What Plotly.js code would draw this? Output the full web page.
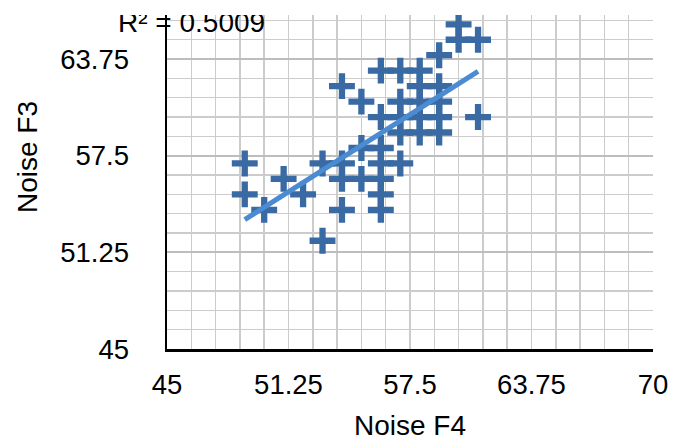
<!DOCTYPE html>
<html><head><meta charset="utf-8">
<script src="https://cdn.plot.ly/plotly-3.0.1.min.js"></script>
<style>html,body{margin:0;padding:0;background:#fff}#chart{width:675px;height:445px}</style>
</head><body><div id="chart"></div>
<script>
// Data (Noise F4 on x, Noise F3 on y)
const noiseF4 = [49,49,50,51,52,53,53,54,54,54,54,55,55,55,56,56,56,56,56,56,56,57,57,57,57,57,58,58,58,58,58,59,59,59,59,59,60,60,61,61];
const noiseF3 = [57,55,54,56,55,57,52,57,56,54,62,61,58,56,63,60,58,57,56,55,54,63,61,60,59,57,63,62,61,60,59,64,62,61,60,59,66,65,65,60];
const xTickVals = [45, 51.25, 57.5, 63.75, 70];
const xTickText = ['45', '51.25', '57.5', '63.75', '70'];
const yTickVals = [45, 51.25, 57.5, 63.75];
const yTickText = ['45', '51.25', '57.5', '63.75'];
const r2Label = 'R² = 0.5009';
const xTitle = 'Noise F4';
const yTitle = 'Noise F3';

// Least-squares linear trendline from the data
const n = noiseF4.length;
const mx = noiseF4.reduce((a,b)=>a+b,0)/n;
const my = noiseF3.reduce((a,b)=>a+b,0)/n;
let sxy = 0, sxx = 0;
for (let i=0;i<n;i++){ sxy += (noiseF4[i]-mx)*(noiseF3[i]-my); sxx += (noiseF4[i]-mx)**2; }
const slope = sxy/sxx, icpt = my - slope*mx;
const xMin = Math.min(...noiseF4), xMax = Math.max(...noiseF4);
const trendX = [xMin, xMax];
const trendY = trendX.map(x => icpt + slope*x);

const markerColor = '#3a6aa3';
const lineColor = '#4a8bd2';

const traces = [
  {type:'scatter', mode:'markers', x:noiseF4, y:noiseF3,
   marker:{symbol:'cross-thin', size:18.5, color:markerColor, line:{width:6.3, color:markerColor}},
   hoverinfo:'skip'},
  {type:'scatter', mode:'lines', x:trendX, y:trendY,
   line:{color:lineColor, width:5}, hoverinfo:'skip'}
];

const PL = 167, PR = 653, PT = 15, PB = 349;
const px2x = p => (p-PL)/(PR-PL);
const px2y = p => (PB-p)/(PB-PT);

const layout = {
  width:675, height:445,
  margin:{l:PL, r:675-PR, t:PT, b:445-PB, pad:0},
  paper_bgcolor:'#ffffff', plot_bgcolor:'#ffffff',
  font:{family:'Liberation Sans, Arial, Helvetica, sans-serif', size:27.5, color:'#000000'},
  showlegend:false,
  xaxis:{range:[45,70], tickmode:'array', tickvals:xTickVals, ticktext:xTickText,
    showgrid:false, zeroline:false, showline:true, linecolor:'#000000', linewidth:2.5,
    ticks:'', ticklabelstandoff:9, automargin:false, fixedrange:true,
    minor:{tickmode:'linear', tick0:45, dtick:1.25, showgrid:true, gridcolor:'#cccccc', gridwidth:1.5, ticks:''},
    title:{text:xTitle, standoff:17, font:{size:28}}},
  yaxis:{range:[45,66.6], tickmode:'array', tickvals:yTickVals, ticktext:yTickText,
    showgrid:true, gridcolor:'#bdbdbd', gridwidth:2.2, zeroline:false, showline:true,
    linecolor:'#000000', linewidth:2.5, ticks:'', ticklabelstandoff:30, automargin:false, fixedrange:true,
    minor:{tickmode:'linear', tick0:45, dtick:1.25, showgrid:true, gridcolor:'#cccccc', gridwidth:1.5, ticks:''}},
  annotations:[
    {xref:'paper', yref:'paper', x:px2x(27), y:px2y(157), text:yTitle, textangle:-90,
     showarrow:false, xanchor:'center', yanchor:'middle', font:{size:28}},
    {xref:'paper', yref:'paper', x:px2x(116), y:px2y(22), text:r2Label,
     showarrow:false, xanchor:'left', yanchor:'middle', font:{size:28}},
    {xref:'paper', yref:'paper', x:px2x(100), y:px2y(14.5), text:' ', width:200, height:16,
     showarrow:false, xanchor:'left', yanchor:'bottom', bgcolor:'#ffffff', borderpad:0, borderwidth:0}
  ]
};

Plotly.newPlot('chart', traces, layout, {staticPlot:true, displayModeBar:false});
</script>
</body></html>
